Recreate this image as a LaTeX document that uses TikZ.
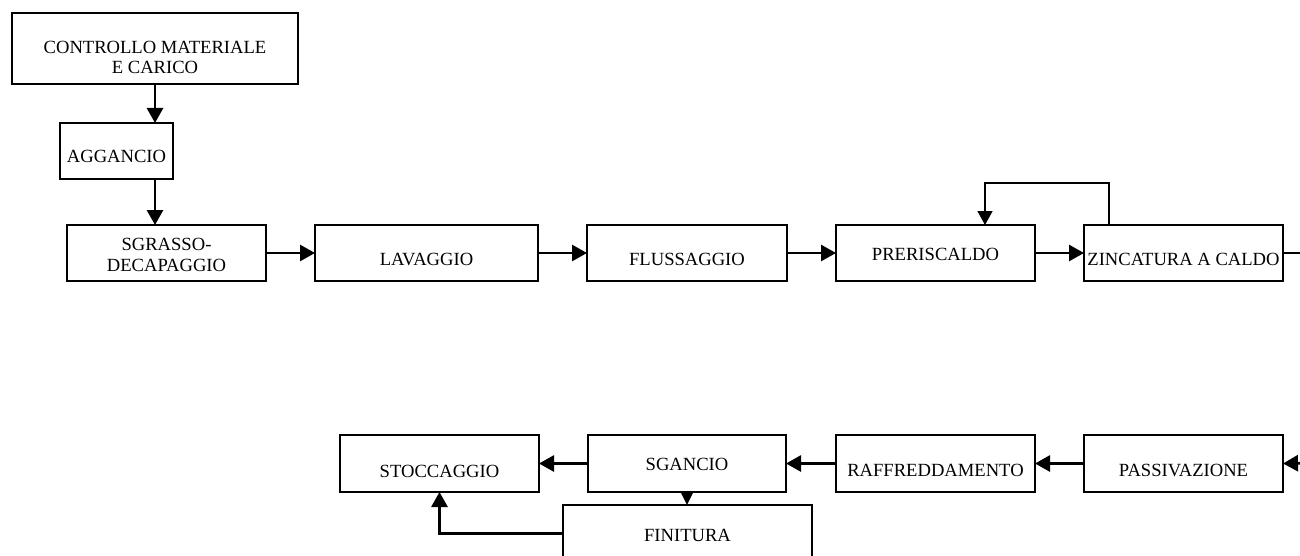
\documentclass[tikz,border=0pt]{standalone}
\usepackage{fontspec}
\setmainfont{Liberation Serif}
\usetikzlibrary{arrows.meta,calc}

% text lowered by #1 below the box centre, taking no vertical room
\newcommand{\boxtext}[2]{\raisebox{-#1}[0pt][0pt]{#2}}
\newcommand{\twolines}[4]{\raisebox{-#1}[0pt][0pt]{\begin{tabular}[t]{@{}c@{}}#2\\[#3]#4\end{tabular}}}

\tikzset{
  stage/.style={draw, rectangle, line width=2pt, inner sep=0pt, outer sep=0pt,
    font=\fontsize{18.6pt}{20pt}\selectfont},
  flow/.style={line width=2.8pt, -{Triangle[length=15pt,width=16pt]}},
  shortflow/.style={line width=2.8pt, -{Triangle[length=13pt,width=12pt]}},
  loopflow/.style={line width=1.4pt, -{Triangle[length=14pt,width=15pt]}},
  plain/.style={line width=1.4pt}
}

\begin{document}
\begin{tikzpicture}[x=1pt, y=-1pt]
\useasboundingbox (0,0) rectangle (1300,556);

% first line of the process
\node[stage, minimum width=286pt, minimum height=71pt] (ctrl) at (155,48.5)
  {\twolines{5.5pt}{CONTROLLO MATERIALE}{0pt}{E CARICO}};
\node[stage, minimum width=113pt, minimum height=56pt] (agg) at (116.5,151)
  {\boxtext{12pt}{AGGANCIO}};
\node[stage, minimum width=199pt, minimum height=56pt] (sgr) at (166.5,253)
  {\twolines{-3pt}{SGRASSO-}{1.7pt}{DECAPAGGIO}};
\node[stage, minimum width=223pt, minimum height=56pt] (lav) at (426.5,253)
  {\boxtext{12pt}{LAVAGGIO}};
\node[stage, minimum width=200pt, minimum height=56pt] (flu) at (687,253)
  {\boxtext{12pt}{FLUSSAGGIO}};
\node[stage, minimum width=199pt, minimum height=56pt] (pre) at (935.5,253)
  {\boxtext{7pt}{PRERISCALDO}};
\node[stage, minimum width=199pt, minimum height=56pt] (zin) at (1183.5,253)
  {\boxtext{12pt}{ZINCATURA A CALDO}};

% second line of the process
\node[stage, minimum width=199pt, minimum height=57pt] (sto) at (439.5,463.5)
  {\boxtext{13.5pt}{STOCCAGGIO}};
\node[stage, minimum width=198pt, minimum height=57pt] (sga) at (687,463.5)
  {\boxtext{6.5pt}{SGANCIO}};
\node[stage, minimum width=199pt, minimum height=57pt] (raf) at (935.5,463.5)
  {\boxtext{12.5pt}{RAFFREDDAMENTO}};
\node[stage, minimum width=199pt, minimum height=57pt] (pas) at (1183.5,463.5)
  {\boxtext{12.5pt}{PASSIVAZIONE}};
\node[stage, minimum width=249pt, minimum height=57pt] (fin) at (687.5,533.5)
  {\boxtext{7.5pt}{FINITURA}};

% ends leaving the sheet on the right
\coordinate (outR) at (1310,253);
\coordinate (inR) at (1310,463);

% vertical feed at the start
\draw[flow] (ctrl.south) -- (ctrl.south |- agg.north);
\draw[flow] (ctrl.south |- agg.south) -- (ctrl.south |- sgr.north);

% first row
\draw[flow] (sgr.east) -- (lav.west);
\draw[flow] (lav.east) -- (flu.west);
\draw[flow] (flu.east) -- (pre.west);
\draw[flow] (pre.east) -- (zin.west);
\draw[loopflow] ([xshift=25pt]zin.north west) -- ++(0,-42) -| ([xshift=49.5pt]pre.north);
\draw[plain] (zin.east) -- (outR);

% second row
\draw[flow] (inR) -- (pas.east);
\draw[flow] (pas.west) -- (raf.east);
\draw[flow] (raf.west) -- (sga.east);
\draw[flow] (sga.west) -- (sto.east);
\draw[shortflow] (sga.south) -- (sga.south |- fin.north);
\draw[flow] (fin.west) -| (sto.south);
\end{tikzpicture}
\end{document}
